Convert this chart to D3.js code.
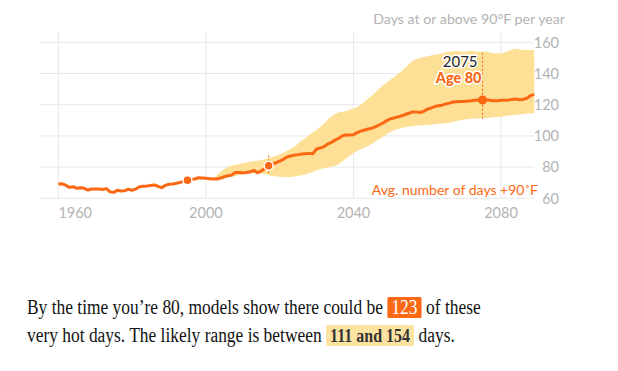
<!DOCTYPE html>
<html>
<head>
<meta charset="utf-8">
<script src="https://cdn.jsdelivr.net/npm/d3@7"></script>
<style>
  body { margin: 0; background: #fff; }
  svg { display: block; }
</style>
</head>
<body>
<script>
// average number of days at or above 90F, one value per year (1960-2089)
const years = d3.range(1960, 2090);
const avgDays = [
  69.2, 69.3, 68.4, 67.0, 67.4, 66.4, 66.8, 66.4, 65.3, 66.0,
  66.0, 66.0, 65.6, 66.2, 64.2, 63.8, 65.1, 64.7, 64.9, 65.8,
  65.1, 66.0, 67.4, 67.7, 67.9, 68.2, 68.5, 67.7, 66.8, 68.3,
  69.0, 69.2, 69.7, 70.2, 70.9, 71.5, 72.0, 72.4, 73.2, 73.0,
  72.8, 72.6, 72.4, 72.4, 73.0, 73.8, 74.5, 74.9, 76.6, 76.6,
  76.4, 76.5, 77.0, 77.9, 76.4, 77.6, 79.0, 80.9, 82.0, 82.8,
  83.9, 85.0, 86.5, 87.1, 87.7, 88.0, 88.4, 88.6, 88.8, 88.6,
  91.6, 92.2, 93.1, 94.8, 95.8, 97.3, 98.4, 100.1, 100.6, 100.6,
  100.8, 102.1, 103.1, 103.8, 104.4, 104.9, 106.0, 107.0, 108.3, 109.8,
  110.9, 111.5, 112.2, 112.8, 113.7, 114.5, 115.4, 115.4, 115.0, 115.6,
  117.1, 117.8, 118.8, 119.3, 119.7, 120.4, 121.0, 121.7, 121.9, 122.1,
  122.1, 122.3, 122.5, 122.8, 123.0, 123.0, 123.2, 122.8, 122.5, 122.5,
  122.8, 122.8, 123.0, 123.4, 123.6, 123.2, 123.4, 124.1, 125.8, 126.6
];

// likely range of the model projections
const bandYears = [2002, 2004, 2006, 2008, 2010, 2012, 2014, 2016, 2018, 2020,
  2022, 2024, 2026, 2028, 2030, 2032, 2034, 2036, 2038, 2040,
  2042, 2044, 2046, 2048, 2050, 2052, 2054, 2056, 2058, 2060,
  2062, 2064, 2066, 2068, 2070, 2072, 2074, 2076, 2078, 2080,
  2082, 2084, 2086, 2089];
const bandLow = [72.4, 72.5, 73.5, 74.3, 75.3, 76.0, 76.0, 75.5, 74.3, 73.8,
  73.5, 74.0, 74.7, 76.0, 78.0, 79.5, 80.3, 82.0, 85.5, 89.0,
  91.5, 93.5, 96.5, 99.5, 102.5, 104.5, 105.5, 106.3, 106.6, 107.0,
  107.5, 108.0, 108.5, 109.5, 110.5, 111.0, 111.3, 111.5, 112.0, 112.3,
  113.0, 113.4, 114.0, 114.5];
const bandHigh = [72.5, 77.0, 80.0, 81.5, 82.5, 83.5, 84.0, 85.0, 86.5, 88.0,
  90.5, 93.0, 97.0, 100.5, 104.0, 108.0, 112.5, 115.0, 116.0, 117.5,
  120.0, 124.0, 128.0, 132.5, 136.0, 139.5, 143.5, 148.0, 150.0, 151.0,
  152.0, 153.0, 154.0, 154.5, 154.0, 154.5, 154.0, 154.0, 153.0, 153.0,
  154.5, 155.8, 155.0, 155.0];

// highlighted years: birth year, today, age 80
const markYears = [1995, 2017, 2075];
const markLow = [null, 76, 111];
const markHigh = [null, 88, 154.5];

const yTicks = [60, 80, 100, 120, 140, 160];
const xTicks = [1960, 2000, 2040, 2080];

const orange = "#fa6814";
const bandColor = "#fddf95";
const gridColor = "#e8e8e8";
const tickColor = "#b3b3b3";
const sans = "Lato, 'Open Sans', sans-serif";
const serif = "'Liberation Serif', 'DejaVu Serif', serif";

const svg = d3.select("body").append("svg")
  .attr("width", 618)
  .attr("height", 371);

const x = d3.scaleLinear().domain([1960, 2080]).range([58.4, 501]);
const y = d3.scaleLinear().domain([60, 160]).range([198.3, 42.3]);

// horizontal grid
svg.append("g").selectAll("line")
  .data(yTicks)
  .enter().append("line")
  .attr("x1", 40)
  .attr("x2", x(2089))
  .attr("y1", d => y(d))
  .attr("y2", d => y(d))
  .attr("stroke", gridColor)
  .attr("stroke-width", 1);

// vertical grid
svg.append("g").selectAll("line")
  .data(xTicks)
  .enter().append("line")
  .attr("x1", d => x(d))
  .attr("x2", d => x(d))
  .attr("y1", 32)
  .attr("y2", y(60))
  .attr("stroke", gridColor)
  .attr("stroke-width", 1);

// y labels on the right
svg.append("g").selectAll("text")
  .data(yTicks)
  .enter().append("text")
  .attr("x", 559)
  .attr("y", d => y(d))
  .attr("dy", "0.36em")
  .attr("text-anchor", "end")
  .style("font-family", sans)
  .style("font-size", "14.5px")
  .style("fill", tickColor)
  .text(d => d);

// x labels
svg.append("g").selectAll("text")
  .data(xTicks)
  .enter().append("text")
  .attr("x", d => x(d))
  .attr("y", 217.7)
  .attr("text-anchor", (d, i) => i == 0 ? "start" : "middle")
  .style("font-family", sans)
  .style("font-size", "14.5px")
  .style("fill", tickColor)
  .text(d => d);

svg.append("text")
  .attr("x", 565)
  .attr("y", 23.5)
  .attr("text-anchor", "end")
  .style("font-family", sans)
  .style("font-size", "14.2px")
  .style("fill", tickColor)
  .text("Days at or above 90°F per year");

// likely range band
const band = d3.area()
  .x(d => x(d.year))
  .y0(d => y(d.low))
  .y1(d => y(d.high))
  .curve(d3.curveMonotoneX);

svg.append("path")
  .datum(bandYears.map((yr, i) => ({year: yr, low: bandLow[i], high: bandHigh[i]})))
  .attr("d", band)
  .attr("fill", bandColor);

// average line
const line = d3.line()
  .x(d => x(d.year))
  .y(d => y(d.value));

svg.append("path")
  .datum(years.map((yr, i) => ({year: yr, value: avgDays[i]})))
  .attr("d", line)
  .attr("fill", "none")
  .attr("stroke", orange)
  .attr("stroke-width", 3)
  .attr("stroke-linejoin", "round");

const marks = markYears.map((yr, i) => ({
  year: yr,
  value: avgDays[years.indexOf(yr)],
  low: markLow[i],
  high: markHigh[i]
}));

// dotted range markers
svg.append("g").selectAll("line")
  .data(marks.filter(d => d.low != null))
  .enter().append("line")
  .attr("x1", d => x(d.year))
  .attr("x2", d => x(d.year))
  .attr("y1", d => y(d.low))
  .attr("y2", d => y(d.high))
  .attr("stroke", orange)
  .attr("stroke-width", 1)
  .attr("stroke-dasharray", "2,2");

svg.append("g").selectAll("circle")
  .data(marks)
  .enter().append("circle")
  .attr("cx", d => x(d.year))
  .attr("cy", d => y(d.value))
  .attr("r", 4.5)
  .attr("fill", orange)
  .attr("stroke", (d, i) => i < 2 ? "#fff" : "none")
  .attr("stroke-width", 1.5);

// annotation for age 80
const ann = marks[2];
svg.append("text")
  .attr("x", x(ann.year) - 5)
  .attr("y", 66.5)
  .attr("text-anchor", "end")
  .style("font-family", sans)
  .style("font-size", "15px")
  .style("fill", "#222")
  .style("stroke", "#fff")
  .style("stroke-width", 3)
  .style("paint-order", "stroke")
  .text(ann.year);

svg.append("text")
  .attr("x", x(ann.year) - 1)
  .attr("y", 83)
  .attr("text-anchor", "end")
  .style("font-family", sans)
  .style("font-size", "14.5px")
  .style("font-weight", "900")
  .style("fill", orange)
  .style("stroke", "#fff")
  .style("stroke-width", 3)
  .style("paint-order", "stroke")
  .text("Age 80");

svg.append("text")
  .attr("x", 538)
  .attr("y", 194.5)
  .attr("text-anchor", "end")
  .style("font-family", sans)
  .style("font-size", "14px")
  .style("fill", orange)
  .text("Avg. number of days +90˚F");

// paragraph under the chart
const lines = [
  {y: 314, parts: [
    {t: "By the time you’re 80, models show there could be"},
    {t: String(ann.value), box: orange, color: "#fff", weight: "normal", size: 20.5},
    {t: "of these"}
  ]},
  {y: 342, parts: [
    {t: "very hot days. The likely range is between"},
    {t: Math.round(markLow[2]) + " and " + Math.round(markHigh[2] - 0.5), box: "#fde3a2", color: "#333", weight: "bold", size: 18.8},
    {t: "days."}
  ]}
];

// the original face is narrower than Liberation Serif: squeeze horizontally
const fontSize = 20.5;
const probe = svg.append("text")
  .style("font-family", serif)
  .style("font-size", fontSize + "px")
  .text(lines[0].parts[0].t);
const squeeze = 356 / probe.node().getComputedTextLength();
probe.remove();

const para = svg.append("g")
  .attr("transform", "translate(27,0) scale(" + squeeze + ",1)");

lines.forEach(function(ln) {
  let cx = 0;
  ln.parts.forEach(function(p, i) {
    if (i > 0) cx += 4.5 / squeeze;
    const g = para.append("g");
    const txt = g.append("text")
      .attr("y", ln.y)
      .style("font-family", serif)
      .style("font-size", (p.size || fontSize) + "px")
      .style("font-weight", p.weight || "normal")
      .style("fill", p.color || "#121212")
      .text(p.t);
    const w = txt.node().getComputedTextLength();
    if (p.box) {
      const pad = 4 / squeeze;
      g.insert("rect", "text")
        .attr("x", cx)
        .attr("y", ln.y - 17)
        .attr("width", w + 2 * pad)
        .attr("height", 21)
        .attr("rx", 1.5)
        .attr("fill", p.box);
      txt.attr("x", cx + pad);
      cx += w + 2 * pad;
    } else {
      txt.attr("x", cx);
      cx += w;
    }
  });
});
</script>
</body>
</html>
